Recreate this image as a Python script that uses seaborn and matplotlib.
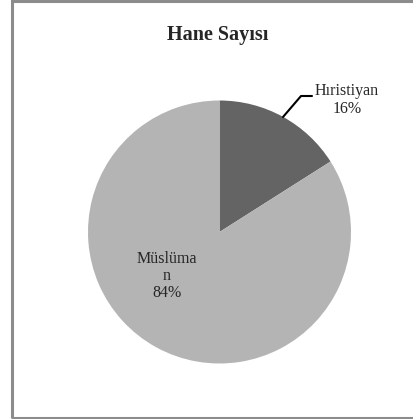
import matplotlib
matplotlib.use("Agg")
import matplotlib.pyplot as plt
import seaborn as sns
from matplotlib.patches import Rectangle

sns.set_theme(style="white")
plt.rcParams['font.family'] = ['Liberation Serif', 'DejaVu Serif']

title = "Hane Sayısı"
labels = ["Hıristiyan", "Müslüman"]
values = [16, 84]
colors = ["#646464", "#b4b4b4"]

W, H = 414, 419
fig = plt.figure(figsize=(W/100, H/100), dpi=100)

# chart border (right edge falls outside the image)
fig.patches.append(Rectangle((12.5/W, 0.8/H), (W)/W, (H-2)/H, transform=fig.transFigure,
                             fill=False, edgecolor="#8c8c8c", linewidth=2.2))

cx, cy, r = 219.5, 232, 131.5
ax = fig.add_axes([(cx - r)/W, 1 - (cy + r)/H, 2*r/W, 2*r/H])
wedges, _ = ax.pie(values, colors=colors, startangle=90, counterclock=False,
                   radius=1.0, wedgeprops=dict(linewidth=0))
ax.set_xlim(-1, 1)
ax.set_ylim(-1, 1)
ax.set_aspect("equal")
ax.axis("off")

fig.text(218/W, 1 - 35/H, title, ha="center", va="center", fontsize=14.5, fontweight="bold")

def fx(px):
    return (px - cx) / r
def fy(py):
    return (cy - py) / r

# Hıristiyan label with leader line
ax.text(fx(347), fy(100), f"{labels[0]}\n{values[0]}%", ha="center", va="center",
        fontsize=11.5, linespacing=1.1, clip_on=False)
ax.plot([fx(312), fx(301), fx(283)], [fy(96), fy(96), fy(117)], color="black",
        linewidth=1.5, clip_on=False)

# Müslüman label (wrapped as in reference)
ax.text(fx(167), fy(276), "Müslüma\nn\n" + f"{values[1]}%", ha="center", va="center",
        fontsize=11.5, linespacing=1.12, clip_on=False)

fig.savefig("out.png", dpi=100)
